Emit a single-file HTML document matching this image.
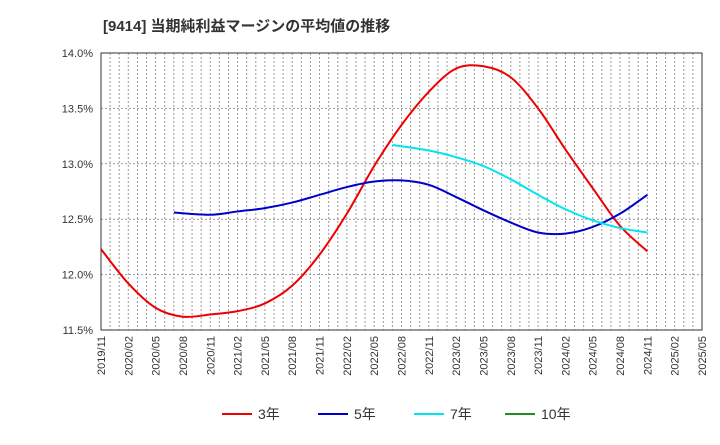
<!DOCTYPE html>
<html><head><meta charset="utf-8"><style>
body{margin:0;background:#fff;font-family:"Liberation Sans","Noto Sans CJK JP",sans-serif}
</style></head><body>
<svg id="c" width="720" height="440" xmlns="http://www.w3.org/2000/svg" font-family="Liberation Sans, Noto Sans CJK JP, sans-serif"></svg>
<script>
const xLabels=["2019/11","2020/02","2020/05","2020/08","2020/11","2021/02","2021/05","2021/08","2021/11","2022/02","2022/05","2022/08","2022/11","2023/02","2023/05","2023/08","2023/11","2024/02","2024/05","2024/08","2024/11","2025/02","2025/05"];
const yTicks=[11.5,12.0,12.5,13.0,13.5,14.0];
const m3=[0,3,6,9,12,15,18,21,24,27,30,33,36,39,42,45,48,51,54,57,60];
const v3=[12.23,11.92,11.70,11.62,11.64,11.67,11.74,11.90,12.18,12.55,12.98,13.35,13.65,13.86,13.88,13.78,13.50,13.13,12.78,12.44,12.21];
const m5=[8,12,15,18,21,24,27,30,33,36,39,42,45,48,51,54,57,60];
const v5=[12.56,12.54,12.57,12.60,12.65,12.72,12.79,12.84,12.85,12.81,12.70,12.58,12.47,12.38,12.37,12.43,12.55,12.72];
const m7=[32,36,39,42,45,48,51,54,57,60];
const v7=[13.17,13.12,13.06,12.98,12.86,12.72,12.59,12.49,12.42,12.38];
const L=101,R=702,T=53,B=330,NM=66;
const X=m=>L+(R-L)*m/NM, Y=v=>B-(v-11.5)/2.5*(B-T);
const svg=document.getElementById('c');const NS="http://www.w3.org/2000/svg";
function el(t,a,p){const e=document.createElementNS(NS,t);for(const k in a)e.setAttribute(k,a[k]);(p||svg).appendChild(e);return e;}
const title=el('text',{x:103,y:31,'font-size':15,'font-weight':'bold',fill:'#333'});title.textContent='[9414]  当期純利益マージンの平均値の推移';


for(let m=1;m<NM;m++){const g=el('line',{x1:X(m),x2:X(m),y1:T,y2:B,stroke:'#999','stroke-dasharray':'2,2','stroke-width':1});

}
yTicks.forEach(v=>{const g=el('line',{x1:L,x2:R,y1:Y(v),y2:Y(v),stroke:'#999','stroke-dasharray':'2,2'});


const t=el('text',{x:L-8,y:Y(v)+4,'text-anchor':'end','font-size':11,fill:'#333'});t.textContent=v.toFixed(1)+'%';

});
xLabels.forEach((s,i)=>{const x=X(i*3);const t=el('text',{transform:`translate(${x+4},${B+6}) rotate(-90)`,'text-anchor':'end','font-size':11,fill:'#333'});t.textContent=s;

});
const fr=el('rect',{x:L,y:T,width:R-L,height:B-T,fill:'none',stroke:'#333','stroke-width':1});


function path(ms,vs){const p=ms.map((m,i)=>[X(m),Y(vs[i])]);let d=`M${p[0][0]},${p[0][1]}`;
for(let i=0;i<p.length-1;i++){const p0=p[i-1]||p[i],p1=p[i],p2=p[i+1],p3=p[i+2]||p2;
d+=` C${p1[0]+(p2[0]-p0[0])/6},${p1[1]+(p2[1]-p0[1])/6} ${p2[0]-(p3[0]-p1[0])/6},${p2[1]-(p3[1]-p1[1])/6} ${p2[0]},${p2[1]}`;}return d;}
[[m3,v3,'#e00','series-3y'],[m5,v5,'#0000cc','series-5y'],[m7,v7,'#00e5ee','series-7y']].forEach(s=>{
const p=el('path',{d:path(s[0],s[1]),fill:'none',stroke:s[2],'stroke-width':2});

});
const leg=[['3年','#e00',222],['5年','#0000cc',318],['7年','#00e5ee',414],['10年','#228b22',505]];
leg.forEach(l=>{const g=el('g',{});


el('line',{x1:l[2],x2:l[2]+30,y1:414,y2:414,stroke:l[1],'stroke-width':2},g);
const t=el('text',{x:l[2]+36,y:419,'font-size':14,fill:'#333'},g);t.textContent=l[0];});
</script>
</body></html>
